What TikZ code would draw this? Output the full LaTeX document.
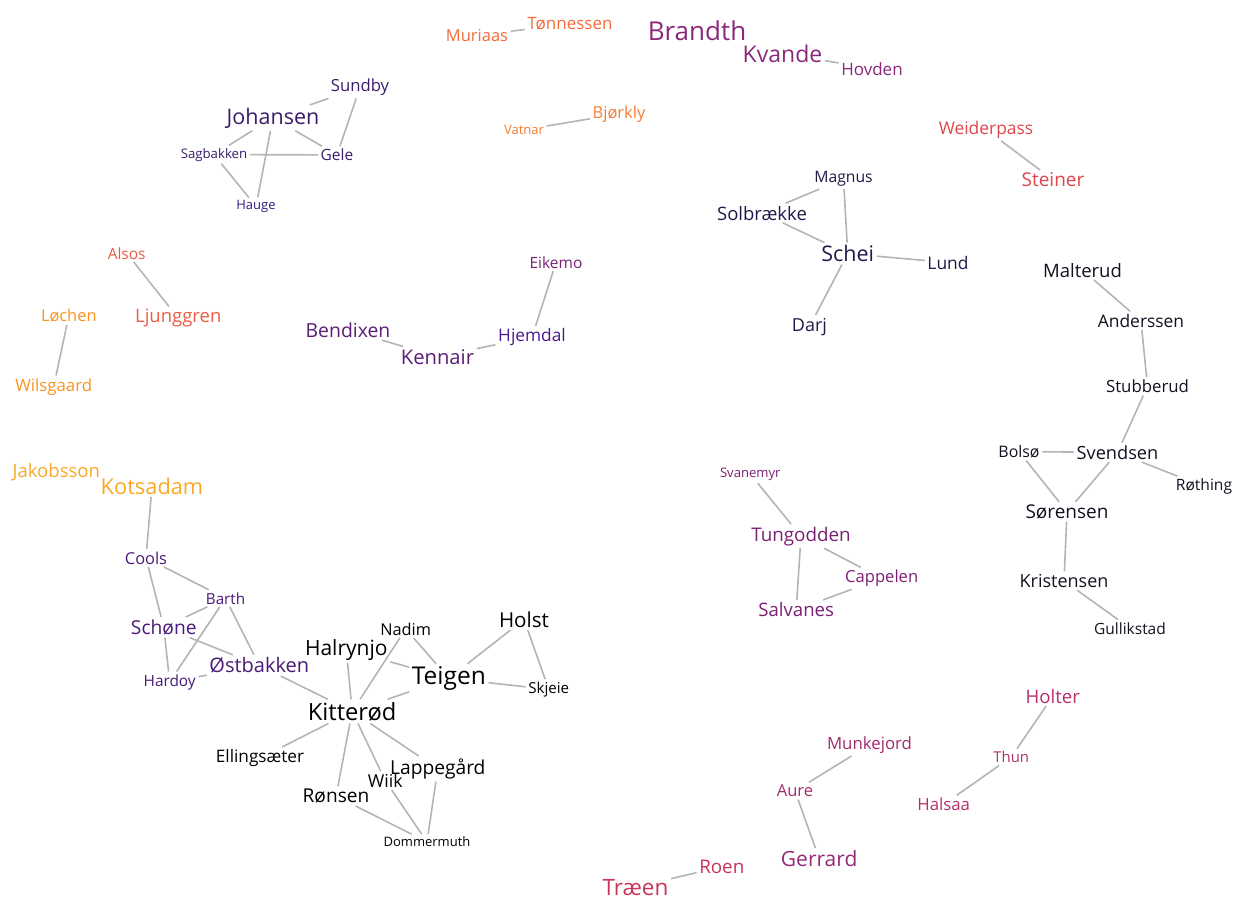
\documentclass[tikz,border=0pt]{standalone}
\usepackage{fontspec}
\setmainfont{Open Sans}
\newcommand\fsz[1]{\fontsize{#1}{#1}\selectfont}
\definecolor{cOr}{HTML}{F26B38}
\definecolor{cOr2}{HTML}{F47D32}
\definecolor{cMag}{HTML}{8A287A}
\definecolor{cInd}{HTML}{3B1C6B}
\definecolor{cRed}{HTML}{DF4549}
\definecolor{cNavy}{HTML}{1F1B48}
\definecolor{cBlk}{HTML}{151020}
\definecolor{cRo}{HTML}{E85C45}
\definecolor{cYo}{HTML}{F7941E}
\definecolor{cPu}{HTML}{5B1E77}
\definecolor{cYe}{HTML}{F9A825}
\definecolor{cPu2}{HTML}{4A1A76}
\definecolor{cVi}{HTML}{7B1F72}
\definecolor{cPk}{HTML}{B3306A}
\definecolor{cPk2}{HTML}{A02A6C}
\definecolor{cCr}{HTML}{C8345A}
\definecolor{lnk}{HTML}{B4B4B4}
\tikzset{nm/.style={anchor=base,inner sep=2.5pt},
  lk/.style={draw=lnk,line width=1.6pt}}
\begin{document}
\begin{tikzpicture}[x=1pt,y=-1pt]
\useasboundingbox (0,0) rectangle (1235,898);
% top orange
\node[nm,font=\fsz{16.5},text=cOr] (muriaas) at (477,41.7) {Muriaas};
\node[nm,font=\fsz{17},text=cOr] (tonnessen) at (570,29.3) {Tønnessen};
\node[nm,font=\fsz{16.5},text=cOr2] (bjorkly) at (619,118.3) {Bjørkly};
\node[nm,font=\fsz{13},text=cOr2] (vatnar) at (524,134.3) {Vatnar};
% magenta top
\node[nm,font=\fsz{26},text=cMag] (brandth) at (697,40.7) {Brandth};
\node[nm,font=\fsz{23},text=cMag] (kvande) at (782.5,62) {Kvande};
\node[nm,font=\fsz{17},text=cMag] (hovden) at (872,75) {Hovden};
% Johansen group
\node[nm,font=\fsz{21.5},text=cInd] (johansen) at (273,124) {Johansen};
\node[nm,font=\fsz{16.7},text=cInd] (sundby) at (360,91.7) {Sundby};
\node[nm,font=\fsz{13.2},text=cInd] (sagbakken) at (214,158) {Sagbakken};
\node[nm,font=\fsz{15.5},text=cInd] (gele) at (337,160.7) {Gele};
\node[nm,font=\fsz{13},text=cInd!85!blue] (hauge) at (256,209.5) {Hauge};
% Weiderpass
\node[nm,font=\fsz{17.4},text=cRed] (weiderpass) at (986,134) {Weiderpass};
\node[nm,font=\fsz{19},text=cRed] (steiner) at (1053,186.7) {Steiner};
% Schei group
\node[nm,font=\fsz{15.7},text=cNavy] (magnus) at (843.5,182.7) {Magnus};
\node[nm,font=\fsz{18.5},text=cNavy] (solbraekke) at (762,220) {Solbrække};
\node[nm,font=\fsz{21.5},text=cNavy] (schei) at (847.7,261.7) {Schei};
\node[nm,font=\fsz{17.4},text=cNavy] (lund) at (948,269) {Lund};
\node[nm,font=\fsz{18},text=cNavy] (darj) at (809.5,331) {Darj};
% Malterud chain
\node[nm,font=\fsz{18.5},text=cBlk] (malterud) at (1082.5,277) {Malterud};
\node[nm,font=\fsz{17.4},text=cBlk] (anderssen) at (1141,327.3) {Anderssen};
\node[nm,font=\fsz{16.8},text=cBlk] (stubberud) at (1147.5,392.7) {Stubberud};
\node[nm,font=\fsz{18.2},text=cBlk] (svendsen) at (1117.5,459.3) {Svendsen};
\node[nm,font=\fsz{15.9},text=cBlk] (bolso) at (1019,457.3) {Bolsø};
\node[nm,font=\fsz{15.6},text=cBlk] (rothing) at (1204,490.7) {Røthing};
\node[nm,font=\fsz{19},text=cBlk] (sorensen) at (1067,518.3) {Sørensen};
\node[nm,font=\fsz{18},text=cBlk] (kristensen) at (1064,587.3) {Kristensen};
\node[nm,font=\fsz{15.5},text=cBlk] (gullikstad) at (1130,634) {Gullikstad};
% left middle
\node[nm,font=\fsz{15.5},text=cRo] (alsos) at (126.7,259) {Alsos};
\node[nm,font=\fsz{18.5},text=cRo] (ljunggren) at (178.3,322.7) {Ljunggren};
\node[nm,font=\fsz{16.4},text=cYo] (lochen) at (68.8,321.7) {Løchen};
\node[nm,font=\fsz{16.8},text=cYo] (wilsgaard) at (53.7,391) {Wilsgaard};
% Kennair
\node[nm,font=\fsz{19.4},text=cPu] (bendixen) at (348,337.3) {Bendixen};
\node[nm,font=\fsz{20.2},text=cPu] (kennair) at (437.5,364) {Kennair};
\node[nm,font=\fsz{17.3},text=cPu!80!blue] (hjemdal) at (532,341.7) {Hjemdal};
\node[nm,font=\fsz{15.5},text=cVi!85!cPu] (eikemo) at (556,268.3) {Eikemo};
% Kotsadam group
\node[nm,font=\fsz{18.5},text=cYe] (jakobsson) at (56.3,477.3) {Jakobsson};
\node[nm,font=\fsz{21.8},text=cYe] (kotsadam) at (152,494) {Kotsadam};
\node[nm,font=\fsz{16.4},text=cPu2] (cools) at (146,564) {Cools};
\node[nm,font=\fsz{15.2},text=cPu2] (barth) at (225.5,604) {Barth};
\node[nm,font=\fsz{19.2},text=cPu2] (schone) at (163.8,634.3) {Schøne};
\node[nm,font=\fsz{15.4},text=cPu2] (hardoy) at (169.7,686) {Hardoy};
\node[nm,font=\fsz{20},text=cPu2] (ostbakken) at (259.3,672.7) {Østbakken};
% Kitterød group
\node[nm,font=\fsz{21},text=black] (halrynjo) at (346.3,655) {Halrynjo};
\node[nm,font=\fsz{16.3},text=black] (nadim) at (405.7,635) {Nadim};
\node[nm,font=\fsz{20.6},text=black] (holst) at (524,627.3) {Holst};
\node[nm,font=\fsz{24.5},text=black] (teigen) at (448.8,684.3) {Teigen};
\node[nm,font=\fsz{15.1},text=black] (skjeie) at (548.8,693.3) {Skjeie};
\node[nm,font=\fsz{23.7},text=black] (kitterod) at (352.2,720) {Kitterød};
\node[nm,font=\fsz{17.2},text=black] (ellingsaeter) at (260,762.7) {Ellingsæter};
\node[nm,font=\fsz{19.2},text=black] (lappegard) at (437.8,774.3) {Lappegård};
\node[nm,font=\fsz{17.8},text=black] (wiik) at (385.2,787.3) {Wiik};
\node[nm,font=\fsz{19.1},text=black] (ronsen) at (336,802.7) {Rønsen};
\node[nm,font=\fsz{13},text=black] (dommermuth) at (427,846.7) {Dommermuth};
% Tungodden
\node[nm,font=\fsz{13.1},text=cVi] (svanemyr) at (750.3,477.3) {Svanemyr};
\node[nm,font=\fsz{18.8},text=cVi] (tungodden) at (801,541) {Tungodden};
\node[nm,font=\fsz{16.6},text=cVi!90!cMag] (cappelen) at (881.7,582.7) {Cappelen};
\node[nm,font=\fsz{18.6},text=cVi] (salvanes) at (796.2,616.7) {Salvanes};
% bottom right
\node[nm,font=\fsz{18.6},text=cPk] (holter) at (1052.8,703.3) {Holter};
\node[nm,font=\fsz{14.9},text=cPk] (thun) at (1011.2,762.7) {Thun};
\node[nm,font=\fsz{16.8},text=cPk] (halsaa) at (943.7,810.7) {Halsaa};
\node[nm,font=\fsz{16.8},text=cPk2] (munkejord) at (869.5,749.3) {Munkejord};
\node[nm,font=\fsz{16.5},text=cPk2] (aure) at (795,796.7) {Aure};
\node[nm,font=\fsz{21},text=cMag!80!cPk] (gerrard) at (819.2,866.7) {Gerrard};
\node[nm,font=\fsz{18.8},text=cCr] (roen) at (721.8,873.3) {Roen};
\node[nm,font=\fsz{22.5},text=cCr] (traeen) at (635.5,895) {Træen};
% links
\draw[lk] (muriaas) -- (tonnessen);
\draw[lk] (vatnar) -- (bjorkly);
\draw[lk] (kvande) -- (hovden);
\draw[lk] (johansen) -- (sundby);
\draw[lk] (sundby) -- (gele);
\draw[lk] (johansen) -- (gele);
\draw[lk] (johansen) -- (sagbakken);
\draw[lk] (johansen) -- (hauge);
\draw[lk] (sagbakken) -- (gele);
\draw[lk] (sagbakken) -- (hauge);
\draw[lk] (weiderpass) -- (steiner);
\draw[lk] (magnus) -- (solbraekke);
\draw[lk] (magnus) -- (schei);
\draw[lk] (solbraekke) -- (schei);
\draw[lk] (schei) -- (lund);
\draw[lk] (schei) -- (darj);
\draw[lk] (malterud) -- (anderssen);
\draw[lk] (anderssen) -- (stubberud);
\draw[lk] (stubberud) -- (svendsen);
\draw[lk] (bolso) -- (svendsen);
\draw[lk] (svendsen) -- (rothing);
\draw[lk] (bolso) -- (sorensen);
\draw[lk] (svendsen) -- (sorensen);
\draw[lk] (sorensen) -- (kristensen);
\draw[lk] (kristensen) -- (gullikstad);
\draw[lk] (alsos) -- (ljunggren);
\draw[lk] (lochen) -- (wilsgaard);
\draw[lk] (bendixen) -- (kennair);
\draw[lk] (kennair) -- (hjemdal);
\draw[lk] (hjemdal) -- (eikemo);
\draw[lk] (kotsadam) -- (cools);
\draw[lk] (cools) -- (barth);
\draw[lk] (cools) -- (schone);
\draw[lk] (barth) -- (schone);
\draw[lk] (barth) -- (hardoy);
\draw[lk] (barth) -- (ostbakken);
\draw[lk] (schone) -- (hardoy);
\draw[lk] (schone) -- (ostbakken);
\draw[lk] (hardoy) -- (ostbakken);
\draw[lk] (ostbakken) -- (kitterod);
\draw[lk] (halrynjo) -- (kitterod);
\draw[lk] (halrynjo) -- (teigen);
\draw[lk] (nadim) -- (teigen);
\draw[lk] (nadim) -- (kitterod);
\draw[lk] (teigen) -- (kitterod);
\draw[lk] (holst) -- (teigen);
\draw[lk] (holst) -- (skjeie);
\draw[lk] (teigen) -- (skjeie);
\draw[lk] (kitterod) -- (ellingsaeter);
\draw[lk] (kitterod) -- (ronsen);
\draw[lk] (kitterod) -- (wiik);
\draw[lk] (kitterod) -- (lappegard);
\draw[lk] (ronsen) -- (dommermuth);
\draw[lk] (wiik) -- (dommermuth);
\draw[lk] (lappegard) -- (dommermuth);
\draw[lk] (svanemyr) -- (tungodden);
\draw[lk] (tungodden) -- (cappelen);
\draw[lk] (tungodden) -- (salvanes);
\draw[lk] (cappelen) -- (salvanes);
\draw[lk] (holter) -- (thun);
\draw[lk] (thun) -- (halsaa);
\draw[lk] (munkejord) -- (aure);
\draw[lk] (aure) -- (gerrard);
\draw[lk] (roen) -- (traeen);
\end{tikzpicture}
\end{document}
